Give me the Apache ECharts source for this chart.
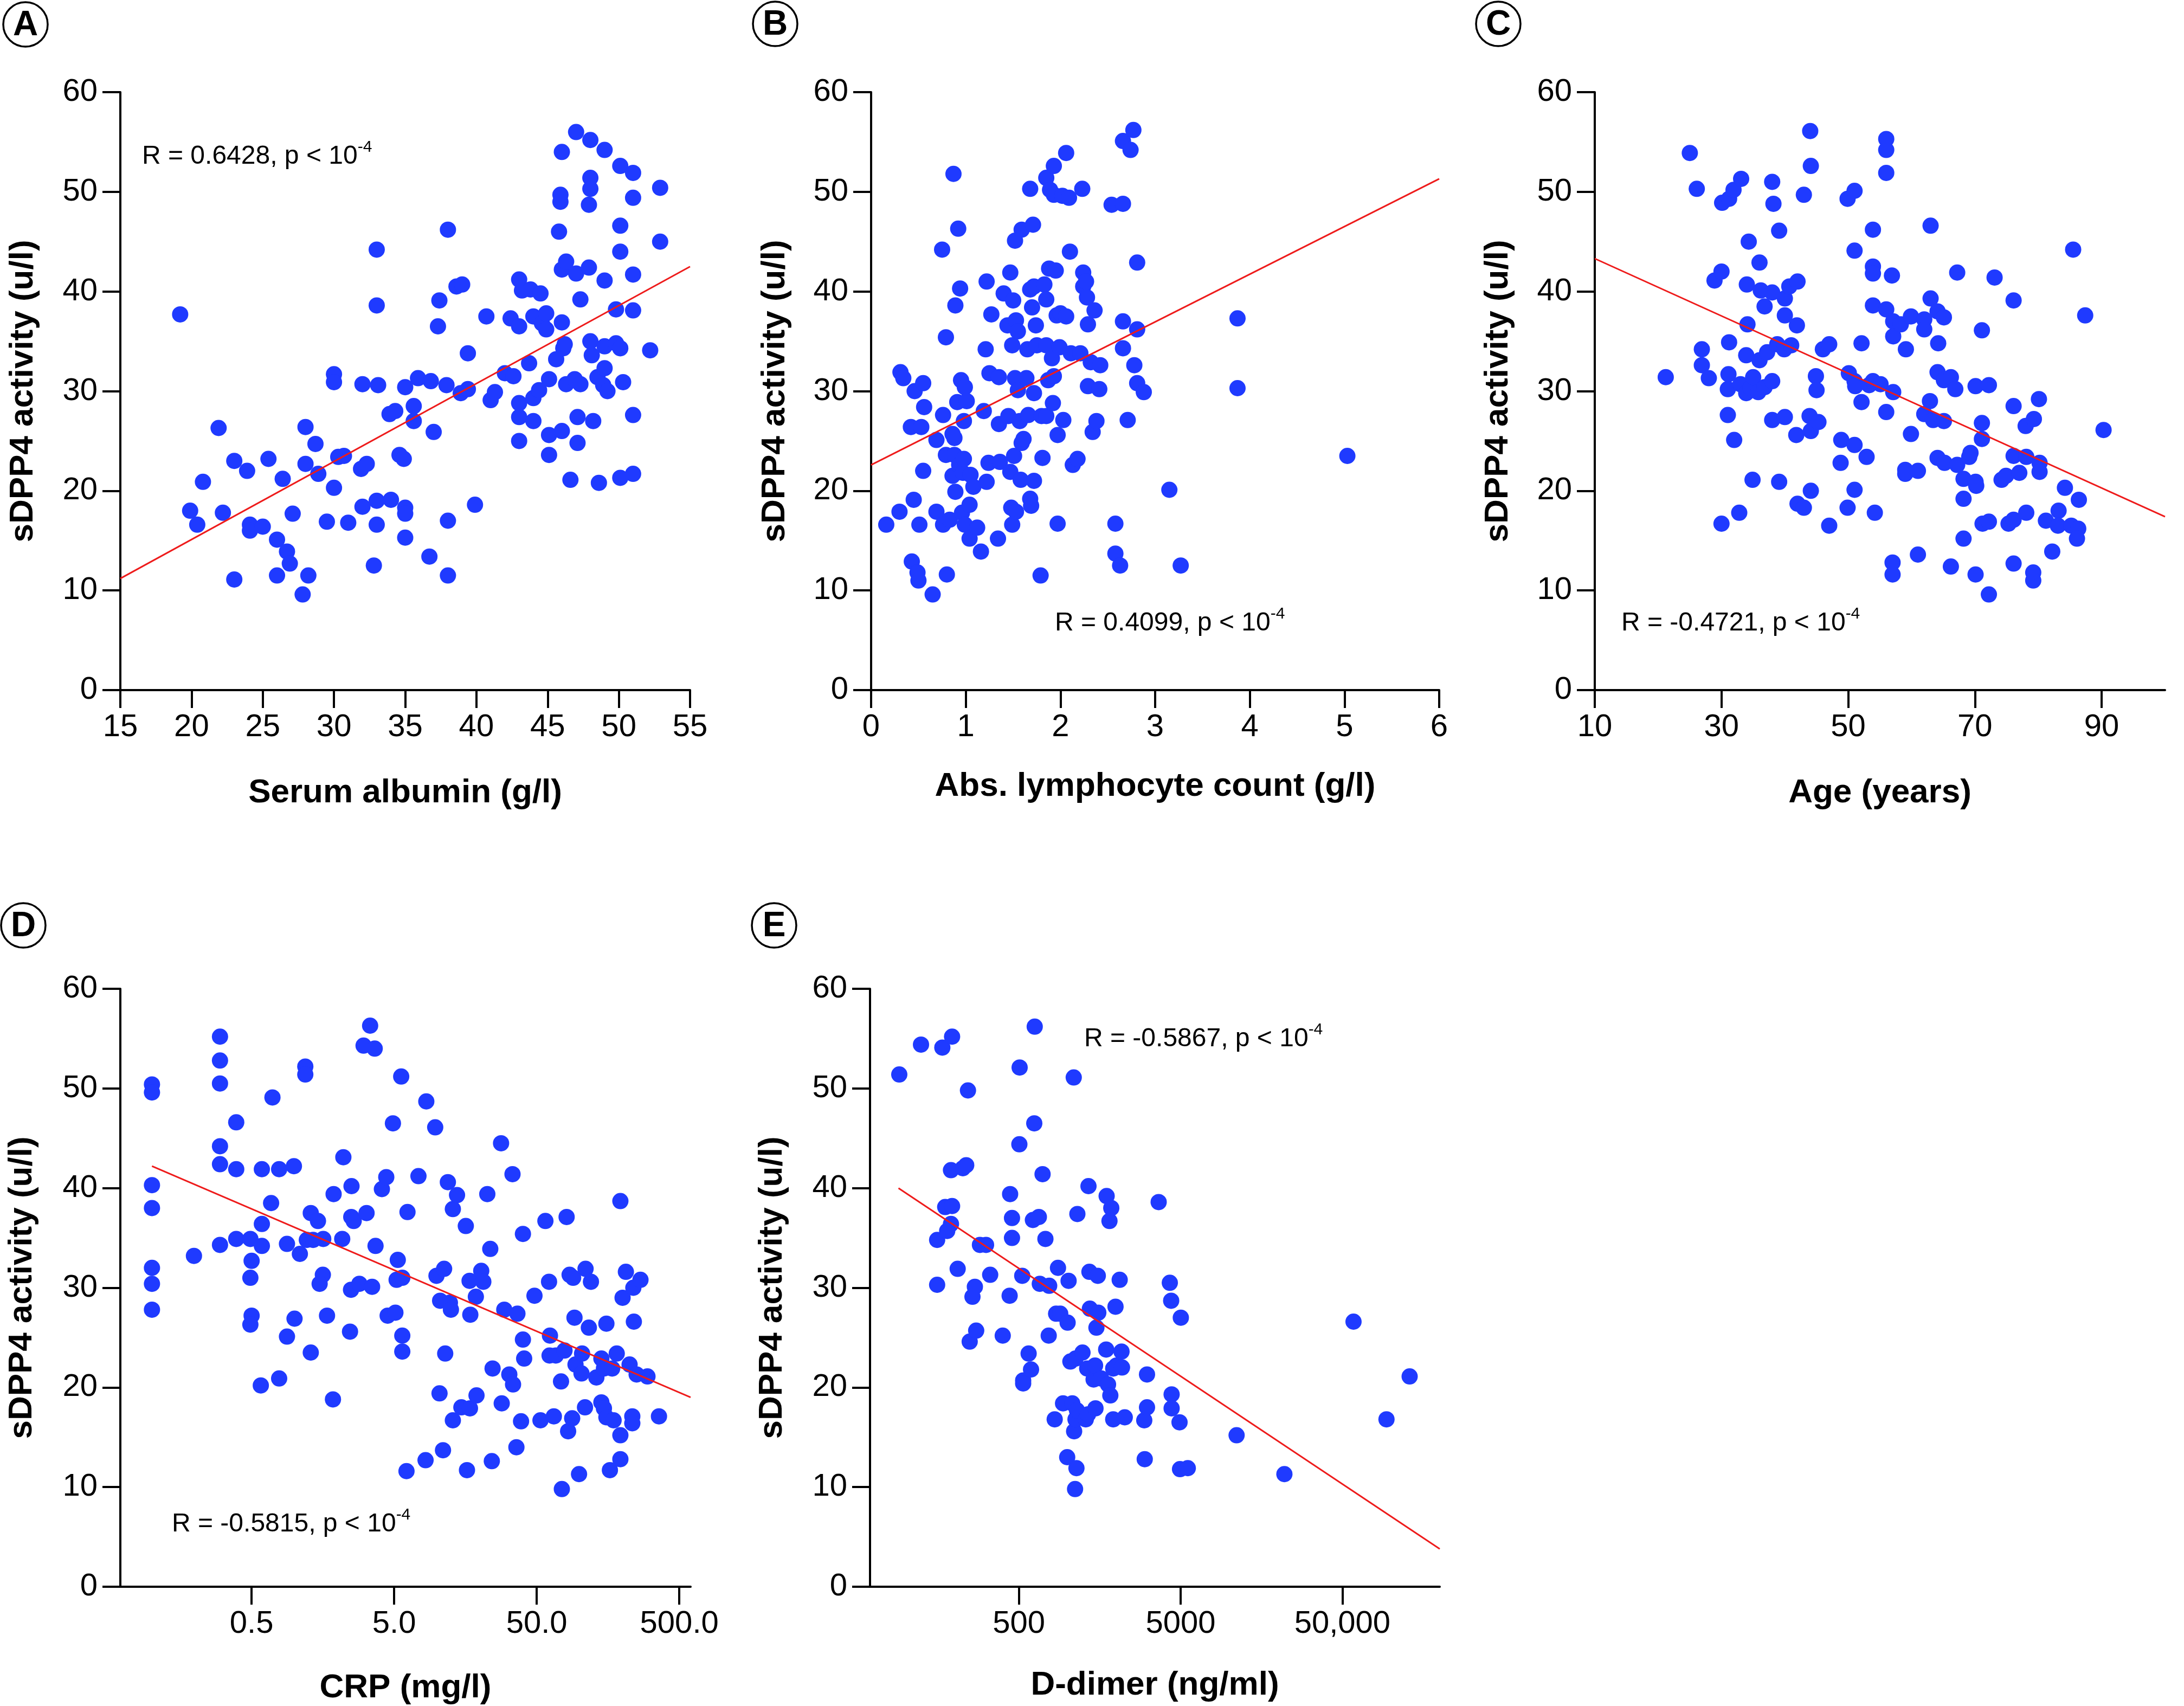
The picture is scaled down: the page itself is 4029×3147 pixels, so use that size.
<!DOCTYPE html>
<html><head><meta charset="utf-8">
<script src="https://cdn.jsdelivr.net/npm/echarts@6/dist/echarts.min.js"></script>
<style>html,body{margin:0;padding:0;background:#fff}#c{width:4029px;height:3147px}</style>
</head><body><div id="c"></div><script>
// ---------------- DATA ----------------
const panelLetters = ['A','B','C','D','E'];
const xTitles = ['Serum albumin (g/l)','Abs. lymphocyte count (g/l)','Age (years)','CRP (mg/l)','D-dimer (ng/ml)'];
const yTitle = 'sDPP4 activity (u/l)';
const rValues = ['0.6428','0.4099','-0.4721','-0.5815','-0.5867'];
const yTicks = [0,10,20,30,40,50,60];

// A: serum albumin
const albuminX = [19.2,19.9,20.4,20.8,21.9,22.2,23.0,23.0,23.9,24.1,24.1,25.0,25.4,26.0,26.0,26.4,26.7,26.9,27.1,27.8,28.0,28.0,28.2,28.7,28.9,29.5,30.0,30.0,30.0,30.3,30.7,31.0,32.0,31.9,32.3,32.0,32.8,33.0,33.0,33.1,33.0,33.0,34.0,33.9,34.3,34.6,34.9,35.0,35.0,35.0,35.0,35.6,35.6,35.9,36.7,36.8,37.0,37.3,37.4,37.9,38.0,38.0,38.0,38.6,39.0,38.9,39.4,39.4,39.9,40.7,41.0,41.3,42.0,42.6,42.4,43.0,43.0,43.2,43.8,43.0,43.0,43.0,43.7,44.0,44.0,44.0,44.4,44.5,44.6,44.9,44.9,45.1,45.1,45.1,45.6,45.8,45.9,45.9,46.0,46.0,46.3,46.0,46.1,46.2,46.0,46.3,46.6,46.9,47.0,47.0,47.1,47.1,47.3,47.3,47.9,47.9,48.0,48.0,48.0,48.0,48.1,48.2,48.6,48.5,48.9,49.0,49.0,49.0,49.0,49.2,49.8,49.8,50.1,50.1,50.1,50.1,50.1,50.3,51.0,51.0,51.0,51.0,51.0,51.0,52.2,52.9,52.9];
const albuminY = [37.7,18.0,16.6,20.9,26.3,17.8,11.1,23.0,22.0,16.6,16.0,16.4,23.2,15.1,11.5,21.2,13.9,12.7,17.7,9.6,26.4,22.7,11.5,24.7,21.7,16.9,31.7,30.9,20.3,23.4,23.5,16.8,30.7,22.2,22.7,18.4,12.5,38.6,44.2,30.6,19.0,16.6,19.1,27.7,28.0,23.6,23.2,30.4,18.3,17.7,15.3,28.5,27.0,31.3,13.4,31.0,25.9,36.5,39.1,30.6,17.0,11.5,46.2,40.5,40.7,29.8,30.2,33.8,18.6,37.5,29.1,29.9,31.8,31.5,37.3,36.5,41.2,40.1,40.2,28.8,27.4,25.0,32.8,27.0,29.3,37.5,30.1,39.8,36.8,37.8,36.2,31.2,25.6,23.6,33.2,46.0,49.7,49.0,54.0,42.2,43.0,36.9,34.3,34.7,26.0,30.7,21.1,31.2,56.0,41.8,24.8,27.4,30.7,39.2,48.7,42.4,55.2,51.4,50.3,35.0,33.6,27.0,20.8,31.4,30.6,41.1,54.2,32.3,34.5,30.0,38.2,34.8,52.6,46.6,44.0,34.3,21.3,30.9,51.9,49.4,41.7,38.1,27.6,21.7,34.1,50.4,45.0];
const albuminTrendX = [15, 55];
const albuminTrendY = [11.2, 42.5];

// B: lymphocyte count
const lymphX = [0.16,0.30,0.31,0.34,0.42,0.43,0.45,0.46,0.49,0.50,0.51,0.53,0.55,0.55,0.56,0.65,0.69,0.69,0.75,0.76,0.76,0.79,0.80,0.79,0.83,0.86,0.87,0.88,0.86,0.88,0.89,0.89,0.91,0.92,0.93,0.94,0.95,0.96,0.97,0.98,0.98,0.99,1.01,0.99,1.04,1.04,1.05,1.08,1.12,1.16,1.19,1.21,1.22,1.22,1.24,1.25,1.27,1.34,1.35,1.35,1.36,1.40,1.45,1.44,1.47,1.47,1.48,1.49,1.50,1.49,1.51,1.52,1.52,1.53,1.53,1.55,1.55,1.57,1.58,1.59,1.59,1.61,1.64,1.65,1.66,1.68,1.68,1.68,1.69,1.70,1.71,1.72,1.72,1.72,1.74,1.75,1.79,1.80,1.81,1.83,1.85,1.85,1.85,1.85,1.87,1.88,1.89,1.91,1.92,1.93,1.93,1.93,1.95,1.96,1.97,1.97,1.99,2.00,2.02,2.03,2.06,2.06,2.09,2.10,2.11,2.13,2.18,2.21,2.23,2.24,2.24,2.27,2.28,2.29,2.29,2.32,2.34,2.36,2.38,2.41,2.42,2.54,2.58,2.58,2.63,2.66,2.66,2.66,2.66,2.71,2.74,2.77,2.78,2.81,2.81,2.81,2.88,3.15,3.27,3.87,3.87,5.03];
const lymphY = [16.6,17.9,31.9,31.3,26.4,12.9,19.1,30.0,11.8,11.0,16.6,26.4,30.8,22.0,28.4,9.6,17.9,25.1,44.2,27.6,16.6,35.4,11.6,23.6,17.1,25.7,51.8,25.3,21.5,23.6,19.9,38.6,28.9,46.3,22.6,40.3,31.1,17.8,21.8,27.0,23.2,30.4,29.0,16.6,18.6,15.2,21.6,20.4,16.3,13.9,28.0,34.2,41.0,20.9,22.8,31.8,37.7,15.2,31.4,26.7,22.9,39.8,27.5,36.6,21.9,41.9,18.3,34.6,39.1,16.6,23.5,45.1,31.3,37.1,17.9,30.1,36.0,27.0,21.1,46.2,24.8,25.2,31.3,34.2,27.6,50.3,40.2,19.2,18.5,38.4,46.7,40.5,29.8,21.0,36.6,34.6,11.5,27.5,23.3,40.7,27.5,39.2,51.4,34.6,31.1,42.3,50.2,33.3,28.8,52.6,49.7,31.5,42.1,37.6,16.7,25.6,34.4,37.8,49.6,27.1,37.5,53.9,49.4,44.0,33.8,22.6,23.2,33.8,50.3,41.9,40.5,41.0,39.4,36.7,30.5,32.9,25.9,38.1,27.0,30.2,32.6,48.7,16.7,13.7,12.5,48.8,55.1,37.0,34.3,27.1,54.2,56.2,32.6,30.8,42.9,36.2,29.9,20.1,12.5,37.3,30.3,23.5];
const lymphTrendX = [0, 6];
const lymphTrendY = [22.6, 51.3];

// C: age
const ageX = [21.2,25.0,26.1,26.9,26.9,28.0,28.9,30.0,30.0,30.1,31.2,31.9,33.1,31.2,31.1,31.0,31.0,32.0,32.8,33.0,33.9,34.1,34.0,34.3,33.9,34.6,35.0,34.9,35.8,36.0,36.0,36.2,36.8,36.8,37.2,38.0,38.0,38.2,38.0,38.0,38.8,39.1,39.1,39.9,40.0,40.0,40.0,40.7,41.0,41.9,42.0,42.0,41.8,43.0,43.0,44.0,44.1,43.9,44.1,44.1,44.9,45.0,45.3,46.0,47.0,47.0,48.9,48.8,49.9,49.9,50.1,51.0,51.0,51.0,51.1,51.0,51.0,52.1,52.1,52.9,53.3,53.9,53.9,53.9,53.9,53.9,54.2,55.1,56.0,56.0,56.0,56.0,56.0,56.9,57.1,57.1,57.1,57.0,57.0,58.3,59.1,59.0,59.0,59.9,59.9,61.0,61.0,62.0,62.0,62.0,63.0,63.0,62.9,63.4,64.2,64.1,64.1,64.1,65.1,65.1,65.1,65.2,66.2,66.2,66.9,67.2,67.2,68.2,68.2,68.2,69.1,69.3,70.1,70.1,70.2,70.1,71.1,71.1,71.1,71.2,72.2,72.2,72.2,73.1,74.2,74.9,75.3,76.1,76.1,76.1,76.1,76.1,77.0,78.0,78.1,78.1,79.3,79.2,79.2,80.1,80.2,80.2,81.2,82.2,83.2,83.1,84.2,85.2,85.5,86.4,86.3,86.1,87.4,90.3];
const ageY = [31.4,53.9,50.3,34.2,32.6,31.3,41.1,42.0,16.7,48.9,49.3,50.2,51.3,34.9,31.7,30.2,27.6,25.1,17.8,30.7,33.6,36.7,40.7,45.0,29.8,30.3,31.4,21.1,29.9,33.1,42.9,40.1,38.5,30.4,33.9,31.0,51.0,48.8,27.1,39.9,34.7,46.1,20.9,34.2,39.3,37.6,27.4,40.5,34.6,36.6,41.0,18.7,25.6,18.3,49.7,56.1,52.6,27.5,26.0,20.0,31.5,30.1,26.9,34.2,34.7,16.5,25.1,22.8,49.3,18.3,31.8,50.1,44.1,31.0,30.5,24.6,20.1,34.8,28.9,23.4,30.6,46.2,42.5,41.8,38.6,31.0,17.8,30.7,55.3,54.2,51.9,38.2,27.9,41.6,37.0,35.5,29.9,12.8,11.6,36.7,34.2,22.1,21.7,37.5,25.7,22.0,13.6,37.2,36.2,27.7,46.6,39.3,29.0,27.1,34.8,38.0,31.9,23.3,37.4,27.0,31.1,22.8,31.4,12.4,30.2,41.9,22.6,21.2,19.2,15.2,23.4,23.8,30.5,20.9,20.5,11.6,36.1,26.8,25.2,16.7,30.6,16.9,9.6,41.4,21.1,21.5,16.7,39.1,28.5,23.5,17.1,12.7,21.8,26.5,17.8,23.4,27.2,11.8,11.0,29.2,22.8,21.9,17.0,13.9,18.0,16.5,20.3,16.5,44.2,19.1,16.2,15.2,37.6,26.1];
const ageTicks = [10,30,50,70,90];
const ageTrendX = [10, 100];
const ageTrendY = [43.3, 17.4];

// D: CRP (log axis)
const crpX = [0.1,0.1,0.1,0.1,0.1,0.1,0.1,0.197,0.30,0.30,0.30,0.30,0.30,0.30,0.39,0.39,0.39,0.49,0.5,0.49,0.5,0.49,0.59,0.59,0.59,0.58,0.685,0.70,0.78,0.78,0.885,0.885,0.99,1.0,1.09,1.19,1.19,1.30,1.30,1.22,1.35,1.46,1.58,1.5,1.59,1.69,1.86,1.88,2.16,2.2,2.45,2.49,2.51,2.50,2.6,2.85,3.05,3.2,3.39,3.5,3.65,3.7,4.1,4.4,4.5,4.9,5.1,5.3,5.2,5.6,5.7,5.7,5.7,6.1,6.2,7.4,8.3,8.4,9.7,9.9,10.4,10.5,11.0,11.2,11.4,11.9,12.3,12.9,12.5,12.9,13.8,14.8,15.9,16.2,17.0,17.1,16.9,18.9,18.7,20.4,21.1,22.5,23.6,24.2,24.5,28.1,28.4,29.6,32.1,33.8,34.1,36,36.6,38.8,40.0,40.0,40.8,48.2,53.1,57.5,61.0,61.9,61.5,65.9,68,75,74,78.3,81,83,85,88.6,90,92,93.5,99,103,104,109,110,116,120,131,142,142,148,148,154,154,163,169,173,182,193,193,193,200,211,224,234,234,238,240,251,267,299,360];
const crpY = [50.4,49.6,40.3,38.0,32.0,30.4,27.8,33.2,55.2,52.8,50.5,44.2,42.4,34.3,46.6,41.9,34.9,34.9,32.7,31.0,27.2,26.3,41.9,36.4,34.2,20.2,38.5,49.1,41.9,20.9,34.4,25.1,42.2,26.9,33.4,52.2,51.4,37.5,23.5,34.8,34.8,36.7,31.3,30.4,34.9,27.2,18.8,39.4,34.9,43.1,25.6,29.8,40.2,37.1,36.7,30.4,54.3,37.5,56.3,30.1,54.0,34.2,39.9,41.1,27.2,46.5,27.5,32.8,30.8,51.2,31.0,25.2,23.6,11.6,37.6,41.2,12.7,48.7,46.1,31.2,19.4,28.7,13.7,31.9,23.4,40.6,28.5,37.9,27.8,16.7,39.3,18.0,36.2,11.7,17.9,27.3,30.7,19.2,29.1,31.7,30.6,39.4,33.9,12.6,21.9,44.5,18.4,27.8,21.3,41.4,20.3,14.0,27.4,16.6,35.4,24.8,22.9,29.2,16.7,36.7,30.6,25.2,23.2,17.1,23.2,9.8,20.6,23.7,37.1,15.6,31.3,16.9,31.0,27.0,22.3,11.3,21.4,23.4,18.0,31.9,26.0,30.6,21.0,18.5,22.9,21.9,17.9,17.0,26.4,11.7,21.9,16.7,23.4,15.2,12.8,38.7,29.0,31.6,22.3,17.1,16.4,30.0,26.6,21.3,30.8,21.1,17.1];
const crpTicks = [0.5, 5, 50, 500];
const crpTickLabels = ['0.5','5.0','50.0','500.0'];
const crpTrendX = [0.1, 600];
const crpTrendY = [42.2, 19.0];

// E: D-dimer (log axis)
const ddimerX = [91,124,168,193,242,156,156,175,193,190,190,180,225,236,209,248,258,267,272,287,313,332,397,438,441,453,453,503,505,524,531,531,574,594,610,622,626,664,673,700,729,769,764,832,849,872,900,937,994,1000,1014,1040,1069,1091,1097,1112,1119,1119,1134,1142,1149,1236,1295,1321,1337,1346,1364,1373,1448,1478,1487,1507,1537,1548,1611,1731,1743,1778,1815,1837,1862,1914,1914,1978,2004,2099,2154,2169,2256,2978,2998,3097,3097,3656,4285,4368,4397,4397,4921,5012,4955,5535,11090,21900,58600,93700,130300];
const ddimerY = [51.4,54.4,54.1,55.2,49.8,34.8,30.3,38.1,38.2,41.8,36.4,35.7,42.0,42.3,31.9,24.6,29.1,30.1,25.7,34.3,34.3,31.3,25.2,29.2,39.4,37.0,35.0,44.4,52.1,31.2,20.7,20.4,23.4,21.8,36.8,46.5,56.2,37.1,30.4,41.4,34.9,30.2,25.2,16.8,27.4,32.0,27.4,18.4,13.0,26.5,30.7,22.6,18.4,51.1,15.6,9.8,22.9,16.8,11.9,17.7,37.4,23.5,16.8,21.9,17.3,40.2,31.6,27.9,20.8,22.2,17.9,26.0,31.2,27.5,20.9,23.8,39.2,20.3,36.7,19.2,38.0,21.9,16.8,28.1,22.2,30.8,23.6,22.0,17.0,16.7,12.8,21.3,18.0,38.6,30.5,28.7,19.3,17.9,16.5,27.0,11.8,11.9,15.2,11.3,26.6,16.8,21.1];
const ddimerTicks = [500, 5000, 50000];
const ddimerTickLabels = ['500','5000','50,000'];
const ddimerTrendX = [90, 200000];
const ddimerTrendY = [40.0, 3.8];

// ---------------- LAYOUT / STYLE ----------------
const FONT = "'Liberation Sans', Arial, Helvetica, sans-serif";
const DOT = '#1f3aff';
const RED = '#ee1b1b';
const grids = [
  {left:222, top:170, width:1051, height:1103},
  {left:1607, top:170, width:1048, height:1103},
  {left:2942, top:170, width:1052, height:1103},
  {left:222, top:1824, width:1052, height:1103},
  {left:1605, top:1824, width:1051, height:1103}
];
const xNameGap = [159, 147, 159, 156, 151];
const yNameGap = [148, 146, 147, 150, 149];
const letterPos = [[47,45],[1430,44],[2764,44],[43,1707],[1428,1707]];
const annotPos = [[262,285],[1946,1146],[2991,1146],[317,2808],[2000,1913]];

const zip = (a, b) => a.map((v, i) => [v, b[i]]);
const xs = [albuminX, lymphX, ageX, crpX, ddimerX];
const ys = [albuminY, lymphY, ageY, crpY, ddimerY];
const txs = [albuminTrendX, lymphTrendX, ageTrendX, crpTrendX, ddimerTrendX];
const tys = [albuminTrendY, lymphTrendY, ageTrendY, crpTrendY, ddimerTrendY];

const axisCommon = {
  axisLine: {show: true, onZero: false, lineStyle: {color: '#000', width: 4}},
  axisTick: {show: true, inside: false, length: 33, lineStyle: {color: '#000', width: 4}},
  splitLine: {show: false},
  nameLocation: 'middle',
  nameMoveOverlap: false,
  nameTextStyle: {fontFamily: FONT, fontSize: 62, fontWeight: 'bold', color: '#000'}
};
const labelCommon = {fontFamily: FONT, fontSize: 58, color: '#000'};

function findLabel(v, ticks, labels) {
  for (let i = 0; i < ticks.length; i++) if (Math.abs(v - ticks[i]) / ticks[i] < 1e-6) return labels[i];
  return '';
}

const xAxes = [
  Object.assign({}, axisCommon, {gridIndex: 0, type: 'value', min: 15, max: 55, interval: 5, name: xTitles[0], nameGap: xNameGap[0],
    axisLabel: Object.assign({margin: 40}, labelCommon)}),
  Object.assign({}, axisCommon, {gridIndex: 1, type: 'value', min: 0, max: 6, interval: 1, name: xTitles[1], nameGap: xNameGap[1],
    axisLabel: Object.assign({margin: 40}, labelCommon)}),
  Object.assign({}, axisCommon, {gridIndex: 2, type: 'value', min: 10, max: 100, interval: 10, name: xTitles[2], nameGap: xNameGap[2],
    axisTick: Object.assign({}, axisCommon.axisTick, {customValues: ageTicks}),
    axisLabel: Object.assign({margin: 40, customValues: ageTicks}, labelCommon)}),
  Object.assign({}, axisCommon, {gridIndex: 3, type: 'log', logBase: 10, min: 0.06, max: 600, name: xTitles[3], nameGap: xNameGap[3],
    axisTick: Object.assign({}, axisCommon.axisTick, {customValues: crpTicks}),
    axisLabel: Object.assign({margin: 40, customValues: crpTicks, formatter: v => findLabel(v, crpTicks, crpTickLabels)}, labelCommon)}),
  Object.assign({}, axisCommon, {gridIndex: 4, type: 'log', logBase: 10, min: 60, max: 200000, name: xTitles[4], nameGap: xNameGap[4],
    axisTick: Object.assign({}, axisCommon.axisTick, {customValues: ddimerTicks}),
    axisLabel: Object.assign({margin: 40, customValues: ddimerTicks, formatter: v => findLabel(v, ddimerTicks, ddimerTickLabels)}, labelCommon)})
];
const yAxes = grids.map((g, i) => Object.assign({}, axisCommon, {
  gridIndex: i, type: 'value', min: yTicks[0], max: yTicks[yTicks.length - 1], interval: 10,
  name: yTitle, nameGap: yNameGap[i], nameRotate: 90,
  axisLabel: Object.assign({margin: 42}, labelCommon)
}));

const series = [];
for (let i = 0; i < 5; i++) {
  series.push({type: 'scatter', xAxisIndex: i, yAxisIndex: i, data: zip(xs[i], ys[i]),
    symbol: 'circle', symbolSize: 30, itemStyle: {color: DOT, opacity: 1}, z: 2, silent: true});
  series.push({type: 'line', xAxisIndex: i, yAxisIndex: i, data: zip(txs[i], tys[i]),
    symbol: 'none', lineStyle: {color: RED, width: 3}, z: 3, silent: true});
}

const graphics = [];
for (let i = 0; i < 5; i++) {
  const [cx, cy] = letterPos[i];
  graphics.push({type: 'circle', shape: {cx: cx, cy: cy, r: 41}, style: {fill: '#fff', stroke: '#000', lineWidth: 3.5}, z: 10});
  graphics.push({type: 'text', x: cx, y: cy + 2, style: {text: panelLetters[i], fontFamily: FONT, fontSize: 64, fontWeight: 'bold', fill: '#000', align: 'center', verticalAlign: 'middle'}, z: 11});
  const [ax, ay] = annotPos[i];
  graphics.push({type: 'text', x: ax, y: ay, z: 11, style: {
    text: '{m|R = ' + rValues[i] + ', p < 10}{s|-4}',
    align: 'left', verticalAlign: 'middle',
    rich: {
      m: {fontFamily: FONT, fontSize: 48, fill: '#000', lineHeight: 56, verticalAlign: 'bottom'},
      s: {fontFamily: FONT, fontSize: 30, fill: '#000', lineHeight: 56, verticalAlign: 'top'}
    }
  }});
}

const chart = echarts.init(document.getElementById('c'), null, {renderer: 'canvas', width: 4029, height: 3147});
chart.setOption({
  animation: false,
  backgroundColor: '#fff',
  grid: grids.map(g => Object.assign({containLabel: false, outerBoundsMode: 'none'}, g)),
  xAxis: xAxes,
  yAxis: yAxes,
  series: series,
  graphic: graphics
});
</script></body></html>
